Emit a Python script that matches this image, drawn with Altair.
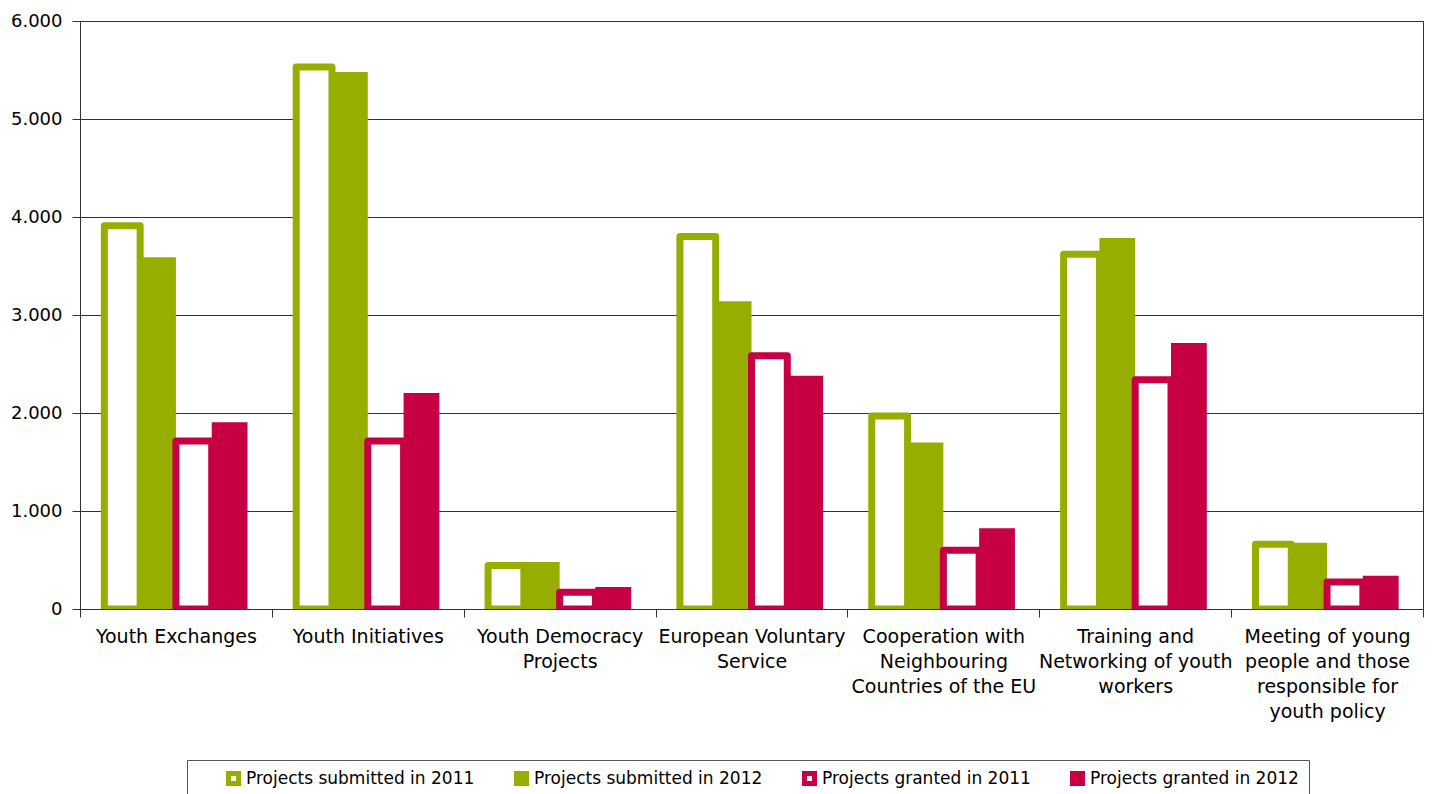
import altair as alt
import pandas as pd

categories = [
    "Youth Exchanges",
    "Youth Initiatives",
    "Youth Democracy Projects",
    "European Voluntary Service",
    "Cooperation with Neighbouring Countries of the EU",
    "Training and Networking of youth workers",
    "Meeting of young people and those responsible for youth policy",
]
category_lines = [
    ["Youth Exchanges"],
    ["Youth Initiatives"],
    ["Youth Democracy", "Projects"],
    ["European Voluntary", "Service"],
    ["Cooperation with", "Neighbouring", "Countries of the EU"],
    ["Training and", "Networking of youth", "workers"],
    ["Meeting of young", "people and those", "responsible for", "youth policy"],
]
series = [
    "Projects submitted in 2011",
    "Projects submitted in 2012",
    "Projects granted in 2011",
    "Projects granted in 2012",
]
submitted_2011 = [3910, 5530, 445, 3800, 1970, 3620, 660]
submitted_2012 = [3590, 5480, 480, 3140, 1700, 3785, 675]
granted_2011 = [1715, 1715, 170, 2585, 600, 2340, 275]
granted_2012 = [1905, 2205, 225, 2380, 825, 2715, 340]
y_ticks = [0, 1000, 2000, 3000, 4000, 5000, 6000]

GREEN = "#97ad00"
RED = "#c70044"
FONT = "DejaVu Sans"

labels = ["|".join(l) for l in category_lines]
values_by_series = [submitted_2011, submitted_2012, granted_2011, granted_2012]
rows = []
for i, lab in enumerate(labels):
    for s, vals in zip(series, values_by_series):
        rows.append({"label": lab, "category": categories[i], "series": s, "value": vals[i]})
df = pd.DataFrame(rows)

leg = alt.Legend(
    orient="none", legendX=107, legendY=739, direction="horizontal", columns=4,
    gridAlign="none",
    title="\u00a0", titleOrient="left", titlePadding=28, titleFontSize=10,
    strokeColor="#555555", padding=10, columnPadding=31,
    symbolType="square", symbolSize=100, symbolStrokeWidth=5,
    labelFontSize=17, labelFont=FONT, labelColor="black", labelOffset=4, labelLimit=400,
)

chart = alt.Chart(df).mark_bar(strokeJoin="round", clip=True).encode(
    x=alt.X(
        "label:N", sort=labels,
        scale=alt.Scale(paddingInner=0, paddingOuter=0),
        axis=alt.Axis(
            title=None,
            labelExpr="isValid(datum.value) ? split(datum.value, '|') : ''",
            labelAngle=0,
            labelFontSize=19, labelFont=FONT, labelColor="black", labelLineHeight=25,
            labelPadding=10, labelBaseline="top", labelLimit=260,
            tickBand="extent", tickSize=8, tickColor="#333333", domainColor="#333333",
        ),
    ),
    xOffset=alt.XOffset("series:N", sort=series,
                        scale=alt.Scale(paddingInner=0, paddingOuter=0.68)),
    y=alt.Y(
        "value:Q", stack=None,
        scale=alt.Scale(domain=[0, 6000], nice=False),
        axis=alt.Axis(
            title=None, values=y_ticks,
            labelExpr="replace(format(datum.value, ',d'), ',', '.')",
            labelFontSize=18, labelFont=FONT, labelColor="black", labelPadding=10,
            tickSize=8, tickColor="#333333", domainColor="#333333",
            grid=True, gridColor="#333333", gridWidth=1,
        ),
    ),
    fill=alt.Fill("series:N", sort=series,
                  scale=alt.Scale(domain=series, range=["white", GREEN, "white", RED]), legend=leg),
    stroke=alt.Stroke("series:N", sort=series,
                      scale=alt.Scale(domain=series, range=[GREEN, GREEN, RED, RED]), legend=leg),
    strokeWidth=alt.condition("indexof(datum.series, '2011') >= 0", alt.value(7), alt.value(0)),
).properties(
    width=1343, height=588,
    padding={"left": 72, "top": 13, "right": 1, "bottom": 185},
    autosize=alt.AutoSizeParams(type="none"),
).configure_view(stroke="#333333", strokeWidth=1)

chart.save("out.html", embed_options={"renderer": "svg", "actions": False})
